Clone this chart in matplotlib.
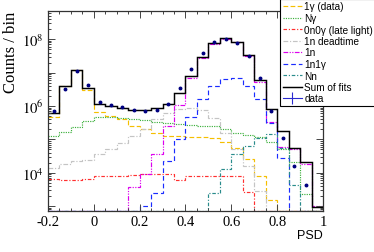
import numpy as np
import matplotlib
matplotlib.use("Agg")
import matplotlib.pyplot as plt
from matplotlib.lines import Line2D
from matplotlib.ticker import MultipleLocator, FuncFormatter, LogLocator, NullFormatter

plt.rcParams['mathtext.fontset'] = 'stix'

# PSD binning: 24 bins of 0.05 from -0.2 to 1.0
psd_lo, psd_hi, bin_w = -0.2, 1.0, 0.05

one_gamma = [4.7e5, 4.0e6, 1.17e7, 3.1e6, 6.5e5, 5.0e5, 4.2e5, 2.6e5, 2.0e5, 1.6e5, 1.23e5, 1.23e5,
             1.2e5, 1.15e5, 1.07e5, 8.3e4, 5.5e4, 2.6e4, 8.3e3, 1.5e3, 0, 0, 0, 0]
n_gamma = [1.3e5, 1.7e5, 2.4e5, 3.5e5, 4.6e5, 4.6e5, 4.4e5, 4.0e5, 3.7e5, 3.3e5, 3.0e5, 2.95e5,
           2.75e5, 2.6e5, 2.6e5, 2.0e5, 1.55e5, 1.35e5, 1.17e5, 8.5e4, 5.0e4, 2.1e4, 2.3e3, 0]
late_light = [6.6e3, 6.2e3, 5.9e3, 6.6e3, 7.8e3, 7.9e3, 8.3e3, 8.7e3, 9.1e3, 9.5e3, 9.1e3, 6.3e3,
              7.9e3, 7.9e3, 7.9e3, 7.9e3, 7.9e3, 2.75e3, 0, 0, 0, 0, 0, 0]
deadtime = [1.4e4, 1.8e4, 2.2e4, 2.4e4, 3.6e4, 5.1e4, 7.6e4, 1.26e5, 2.0e5, 4.0e5, 6.3e5, 7.9e5,
            8.5e5, 7.6e5, 4.4e5, 1.6e5, 5.0e4, 1.6e4, 2.8e3, 0, 0, 0, 0, 0]
one_n = [0, 0, 0, 0, 0, 0, 0, 3.7e3, 9.3e3, 3.7e4, 2.5e5, 1.1e6,
         6.9e6, 2.7e7, 7.1e7, 1.0e8, 8.1e7, 3.2e7, 5.2e6, 3.4e5, 5.9e4, 5.2e4, 1.9e4, 1.0e3]
one_n_gamma = [0, 0, 0, 0, 0, 0, 0, 0, 1.05e3, 2.5e3, 2.3e4, 1.0e5,
               4.6e5, 1.6e6, 3.9e6, 6.6e6, 6.8e6, 4.1e6, 1.6e6, 3.2e5, 2.75e4, 0, 0, 0]
n_n = [0, 0, 0, 0, 0, 0, 0, 0, 0, 0, 0, 0,
       0, 0, 2.5e3, 1.3e4, 3.7e4, 6.3e4, 1.1e5, 1.45e5, 5.6e4, 4.2e3, 0, 0]
sum_fits = [6.2e5, 4.1e6, 1.2e7, 3.4e6, 1.12e6, 9.8e5, 8.7e5, 7.8e5, 7.8e5, 8.9e5, 1.17e6, 2.45e6,
            7.9e6, 2.95e7, 7.8e7, 1.1e8, 8.5e7, 3.4e7, 6.2e6, 8.1e5, 1.75e5, 5.5e4, 2.05e4, 930]
data = [7.3e5, 3.2e6, 1.1e7, 4.3e6, 1.35e6, 1.1e6, 9.3e5, 7.6e5, 7.2e5, 7.6e5, 1.15e6, 3.4e6,
        1.26e7, 4.0e7, 8.1e7, 1.02e8, 7.8e7, 3.1e7, 7.1e6, 7.2e5, 1.1e5, 1.6e4, 4.4e3, np.nan]

labels = ["1\u03b3 (data)", "N\u03b3", "0n0\u03b3 (late light)", "1n deadtime",
          "1n", "1n1\u03b3", "Nn", "Sum of fits", "data"]

ymin, ymax = 720, 7e8

edges = np.linspace(psd_lo, psd_hi, int(round((psd_hi - psd_lo) / bin_w)) + 1)
centers = 0.5 * (edges[:-1] + edges[1:])

fig = plt.figure(figsize=(3.74, 2.53), dpi=100)
ax = fig.add_axes([0.1283, 0.162, 0.7353, 0.7906])
ax.set_yscale('log')

components = [
    (one_gamma, '#f5bf00', (0, (4, 2))),
    (n_gamma, '#3cb03c', (0, (1, 1))),
    (late_light, '#ff3030', (0, (3, 1.5, 1, 1.5))),
    (deadtime, '#c4c4c4', (0, (4, 1.5, 1, 1.5))),
    (one_n, '#dd00ee', (0, (4, 1.2, 1, 1.2, 1, 1.2))),
    (one_n_gamma, '#1a2cff', (0, (4, 2.5))),
    (n_n, '#2a8c8c', (0, (3, 1.5, 1, 1.5))),
]

handles = []
for vals, col, ls in components:
    v = np.asarray(vals, dtype=float)
    v = np.where(v > 0, v, ymin)
    ax.stairs(v, edges, baseline=None, color=col, lw=0.85, linestyle=ls)
    handles.append(Line2D([], [], color=col, lw=0.85, linestyle=ls))

ax.stairs(sum_fits, edges, baseline=None, color='black', lw=1.05)
handles.append(Line2D([], [], color='black', lw=1.05))

ax.plot(centers, data, 'o', ms=1.8, color='#000080', zorder=5)
handles.append(Line2D([], [], color='#2a2ad0', lw=0.8, marker='|', ms=9, mew=0.8))

ax.set_xlim(psd_lo, psd_hi)
ax.set_ylim(ymin, ymax)

ax.xaxis.set_major_locator(MultipleLocator(0.2))
ax.xaxis.set_minor_locator(MultipleLocator(0.05))
ax.xaxis.set_major_formatter(FuncFormatter(lambda v, p: f"{v:g}" if abs(v) > 1e-9 else "0"))

ax.yaxis.set_major_locator(LogLocator(base=10, numticks=20))
ax.yaxis.set_minor_locator(LogLocator(base=10, subs=np.arange(2, 10), numticks=100))
ax.yaxis.set_minor_formatter(NullFormatter())


def ylab(v, p):
    e = int(round(np.log10(v)))
    return f"$10^{{{e}}}$" if e % 2 == 0 else ""


ax.yaxis.set_major_formatter(FuncFormatter(ylab))

ax.tick_params(which='both', direction='in', top=True, right=True, width=0.7, color='#444444')
ax.tick_params(which='major', length=5, labelsize=10.5, pad=3)
ax.tick_params(which='minor', length=2.5)
for lab in ax.get_xticklabels() + ax.get_yticklabels():
    lab.set_family('Liberation Serif')
for sp in ax.spines.values():
    sp.set_linewidth(0.9)
    sp.set_color('#333333')

fig.text(0.8636, 0.067, 'PSD', ha='right', va='center', family='Liberation Sans', size=9)
fig.text(11 / 374, 1 - 52 / 253, 'Counts / bin', rotation=90, ha='center', va='center',
         family='Liberation Serif', size=12)

leg = fig.legend(handles, labels, loc='upper left', bbox_to_anchor=(0.749, 1.0),
                 bbox_transform=fig.transFigure, frameon=True, fancybox=False,
                 edgecolor='black', framealpha=1, borderaxespad=0, borderpad=0.25,
                 handlelength=1.9, handletextpad=0.25, labelspacing=0.15,
                 prop={'family': 'Liberation Sans', 'size': 7.2})
leg.get_frame().set_linewidth(0.8)

fig.savefig('out.png', dpi=100)
